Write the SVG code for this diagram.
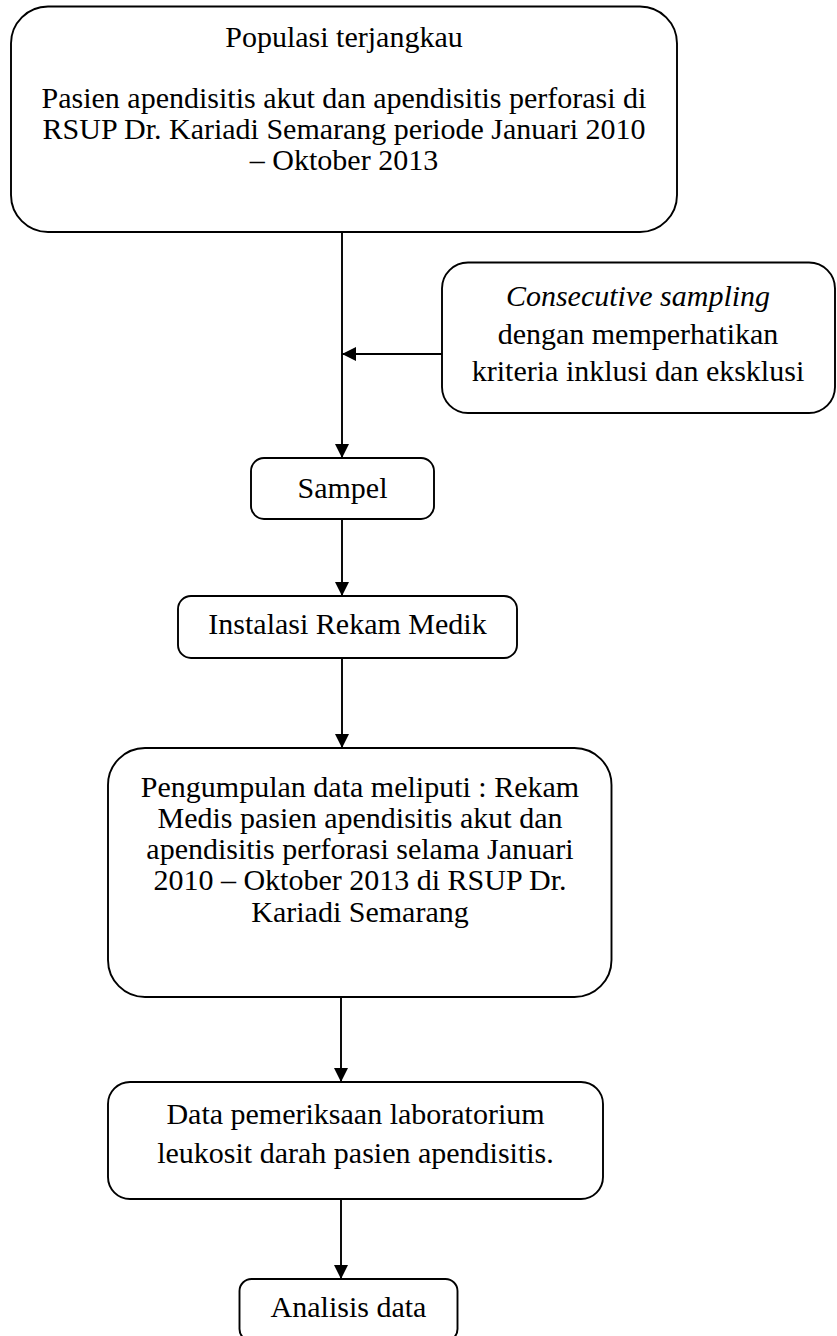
<svg xmlns="http://www.w3.org/2000/svg" width="837" height="1336" viewBox="0 0 837 1336">
<style>
.box{fill:#fff;stroke:#000;stroke-width:1.9}
.t{font-family:"Liberation Serif","Times New Roman",serif;font-size:30px;fill:#000;text-anchor:middle}
.it{font-style:italic}
.c{stroke:#000;stroke-width:1.9;fill:none}
</style>
<defs>
<marker id="ah" markerWidth="14" markerHeight="14" refX="14" refY="7" orient="auto" markerUnits="userSpaceOnUse">
<path d="M0,0 L14,7 L0,14 Z" fill="#000"/>
</marker>
</defs>
<rect width="837" height="1336" fill="#fff"/>
<g id="connectors">
<line class="c" x1="342" y1="232" x2="342" y2="458" marker-end="url(#ah)"/>
<line class="c" x1="442" y1="354" x2="342" y2="354" marker-end="url(#ah)"/>
<line class="c" x1="342" y1="519" x2="342" y2="596" marker-end="url(#ah)"/>
<line class="c" x1="342" y1="658" x2="342" y2="748" marker-end="url(#ah)"/>
<line class="c" x1="341" y1="997" x2="341" y2="1082" marker-end="url(#ah)"/>
<line class="c" x1="341" y1="1199" x2="341" y2="1279" marker-end="url(#ah)"/>
</g>
<g id="populasi">
<rect class="box" x="11" y="6.5" width="666" height="225.5" rx="37" ry="37"/>
<text class="t" x="344" y="47">Populasi terjangkau</text>
<text class="t" x="344" y="108">Pasien apendisitis akut dan apendisitis perforasi di</text>
<text class="t" x="344" y="139">RSUP Dr. Kariadi Semarang periode Januari 2010</text>
<text class="t" x="344" y="170">– Oktober 2013</text>
</g>
<g id="sampling">
<rect class="box" x="442" y="262.5" width="393" height="150.5" rx="26" ry="26"/>
<text class="t it" x="638" y="306">Consecutive sampling</text>
<text class="t" x="638" y="344">dengan memperhatikan</text>
<text class="t" x="638" y="381">kriteria inklusi dan eksklusi</text>
</g>
<g id="sampel">
<rect class="box" x="251" y="458" width="183" height="61" rx="13" ry="13"/>
<text class="t" x="342.5" y="498">Sampel</text>
</g>
<g id="instalasi">
<rect class="box" x="178" y="596" width="339" height="62" rx="13" ry="13"/>
<text class="t" x="347.5" y="634">Instalasi Rekam Medik</text>
</g>
<g id="pengumpulan">
<rect class="box" x="108" y="748" width="503.5" height="249" rx="37" ry="37"/>
<text class="t" x="360" y="797">Pengumpulan data meliputi : Rekam</text>
<text class="t" x="360" y="828">Medis pasien apendisitis akut dan</text>
<text class="t" x="360" y="859">apendisitis perforasi selama Januari</text>
<text class="t" x="360" y="890">2010 – Oktober 2013 di RSUP Dr.</text>
<text class="t" x="360" y="922">Kariadi Semarang</text>
</g>
<g id="data">
<rect class="box" x="108" y="1082" width="495" height="117" rx="22" ry="22"/>
<text class="t" x="355.5" y="1124">Data pemeriksaan laboratorium</text>
<text class="t" x="355.5" y="1163">leukosit darah pasien apendisitis.</text>
</g>
<g id="analisis">
<rect class="box" x="239.5" y="1279" width="218" height="62" rx="12" ry="12"/>
<text class="t" x="348.5" y="1317">Analisis data</text>
</g>
</svg>
